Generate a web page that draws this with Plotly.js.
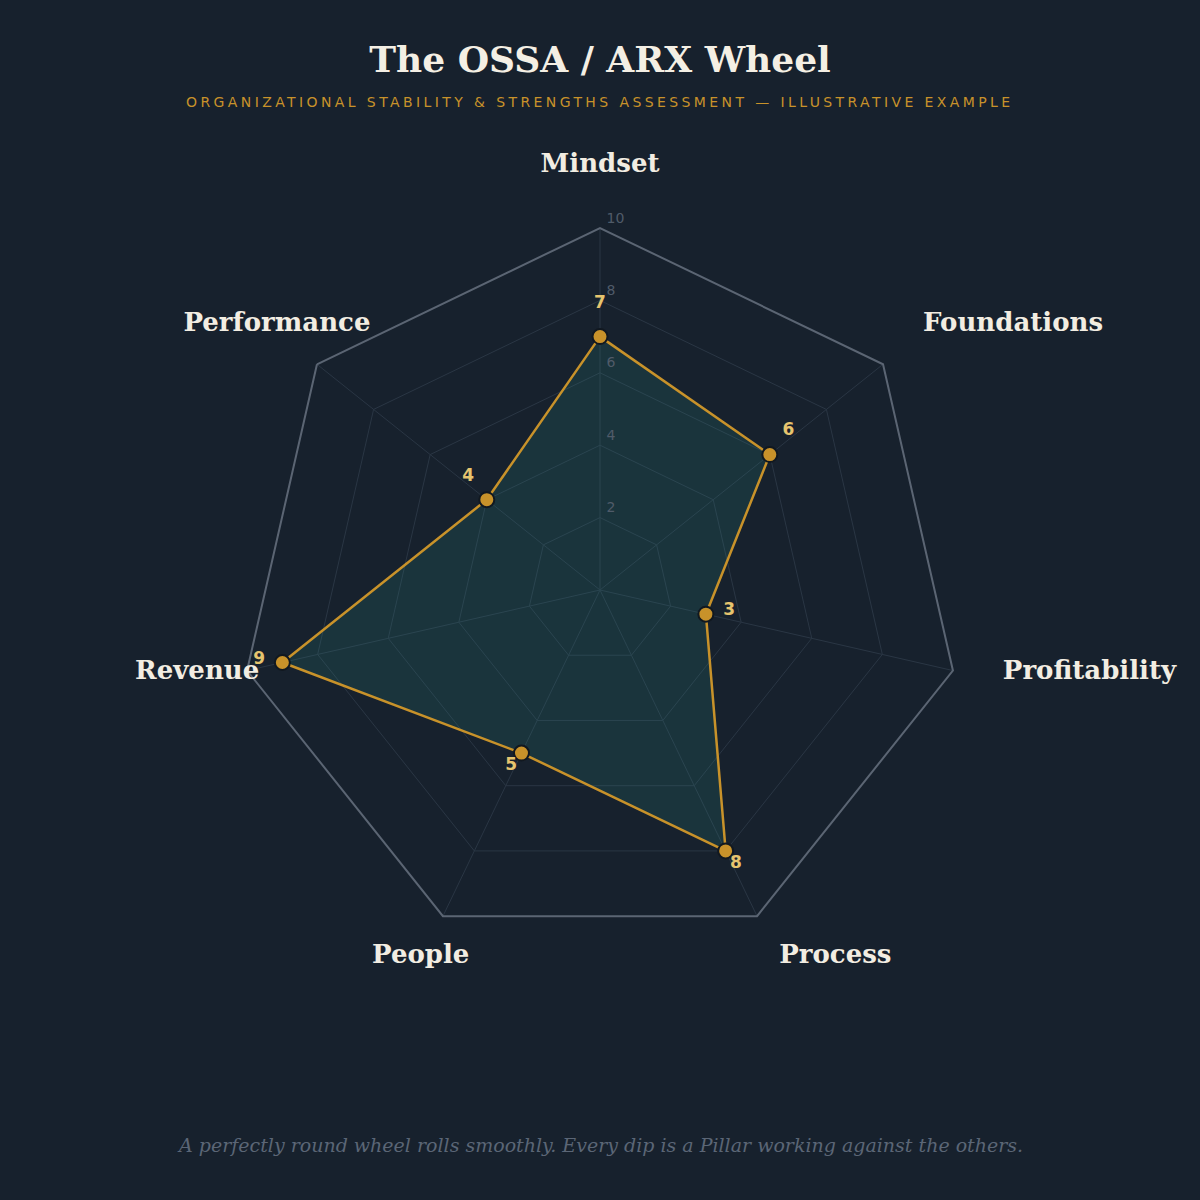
<!DOCTYPE html>
<html>
<head>
<meta charset="utf-8">
<script src="https://cdn.plot.ly/plotly-3.0.1.min.js"></script>
<style>
html,body{margin:0;padding:0;background:#17212d;}
#chart{width:1200px;height:1200px;}
</style>
</head>
<body>
<div id="chart"></div>
<script>
const pillars = ["Mindset","Foundations","Profitability","Process","People","Revenue","Performance"];
const scores = [7, 6, 3, 8, 5, 9, 4];
const radialTicks = [2, 4, 6, 8, 10];

const titleText = "The OSSA / ARX Wheel";
const subtitleText = "ORGANIZATIONAL STABILITY & STRENGTHS ASSESSMENT — ILLUSTRATIVE EXAMPLE";
const footerText = "A perfectly round wheel rolls smoothly. Every dip is a Pillar working against the others.";

const LABEL_OFFSET = 0.66;   // value labels sit just outside each point

const closedTheta = pillars.concat([pillars[0]]);
const closedR = scores.concat([scores[0]]);

const traces = [
  {
    type: "scatterpolar",
    r: closedR,
    theta: closedTheta,
    mode: "lines",
    fill: "toself",
    fillcolor: "rgba(42,140,135,0.18)",
    line: {color: "#c8922a", width: 2.5},
    hoverinfo: "skip",
    showlegend: false
  },
  {
    type: "scatterpolar",
    r: scores,
    theta: pillars,
    mode: "markers",
    marker: {size: 15, color: "#c8922a", line: {color: "#111820", width: 2}},
    showlegend: false
  },
  {
    type: "scatterpolar",
    r: scores.map(v => v + LABEL_OFFSET),
    theta: pillars,
    mode: "text",
    text: scores.map(String),
    textposition: "top center",
    textfont: {family: "DejaVu Sans", size: 17, color: "#e6c46e", weight: "bold"},
    hoverinfo: "skip",
    showlegend: false
  }
];

const H = 1200, T = 228, B = 248;
const py = px => (H - B - px) / (H - T - B);

const layout = {
  width: 1200,
  height: 1200,
  paper_bgcolor: "#17212d",
  plot_bgcolor: "#17212d",
  margin: {l: 100, r: 100, t: T, b: B},
  showlegend: false,
  title: {
    text: titleText,
    x: 0.5, xanchor: "center",
    y: 1 - 59/1200, yanchor: "middle", yref: "container",
    font: {family: "DejaVu Serif", size: 36, color: "#f4efe4", weight: "bold"}
  },
  polar: {
    bgcolor: "#17212d",
    gridshape: "linear",
    domain: {x: [0, 1], y: [0, 1]},
    radialaxis: {
      range: [0, 10],
      tickvals: radialTicks,
      ticktext: radialTicks.map(String),
      angle: 90,
      tickangle: 90,
      side: "clockwise",
      showline: false,
      ticks: "",
      gridcolor: "#2a3644",
      gridwidth: 1,
      tickfont: {family: "DejaVu Sans", size: 14, color: "#505b69"}
    },
    angularaxis: {
      direction: "clockwise",
      rotation: 90,
      showline: true,
      linecolor: "#5b6573",
      linewidth: 2,
      gridcolor: "#2a3644",
      gridwidth: 1,
      ticks: "outside",
      ticklen: 45,
      tickcolor: "rgba(0,0,0,0)",
      tickfont: {family: "DejaVu Serif", size: 26, color: "#f2ede2", weight: "bold"}
    }
  },
  annotations: [
    {
      text: subtitleText,
      xref: "paper", yref: "paper",
      x: 0.5, y: py(102), xanchor: "center", yanchor: "middle",
      showarrow: false,
      font: {family: "DejaVu Sans", size: 14, color: "#c8922a"}
    },
    {
      text: footerText,
      xref: "paper", yref: "paper",
      x: 0.5, y: py(1145), xanchor: "center", yanchor: "middle",
      showarrow: false,
      font: {family: "DejaVu Serif", size: 19, color: "#5b6676", style: "italic"}
    }
  ]
};

function shiftOnScreen(el, sx, sy) {
  const parent = el.parentNode;
  let dx = sx, dy = sy;
  if (parent && parent.getScreenCTM) {
    const m = parent.getScreenCTM();
    if (m) {
      const inv = m.inverse();
      dx = inv.a * sx + inv.c * sy;
      dy = inv.b * sx + inv.d * sy;
    }
  }
  const tr = el.getAttribute("transform") || "";
  el.setAttribute("transform", "translate(" + dx.toFixed(2) + "," + dy.toFixed(2) + ") " + tr);
}

Plotly.newPlot("chart", traces, layout, {displayModeBar: false, staticPlot: true}).then(function(){
  const anns = document.querySelectorAll(".annotation-text");
  if (anns.length) {
    anns[0].style.letterSpacing = "3.4px";
  }
  const tickStrings = radialTicks.map(String);
  document.querySelectorAll("text").forEach(function(t){
    const txt = t.textContent;
    const idx = pillars.indexOf(txt);
    if (idx >= 0) {
      // centre the left-hand pillar names and lift them slightly
      const ang = (90 - idx * 360 / pillars.length) * Math.PI / 180;
      const s = Math.sin(ang);
      if (t.getAttribute("text-anchor") === "end") t.setAttribute("text-anchor", "middle");
      shiftOnScreen(t, 0, -14 + 14 * s);
      return;
    }
    if (tickStrings.indexOf(txt) >= 0 && !t.closest(".trace") && !t.closest(".textpoint")) {
      // radial tick labels: nudge to the right of the spoke, above the ring
      shiftOnScreen(t, 6, -10);
    }
  });
});
</script>
</body>
</html>
